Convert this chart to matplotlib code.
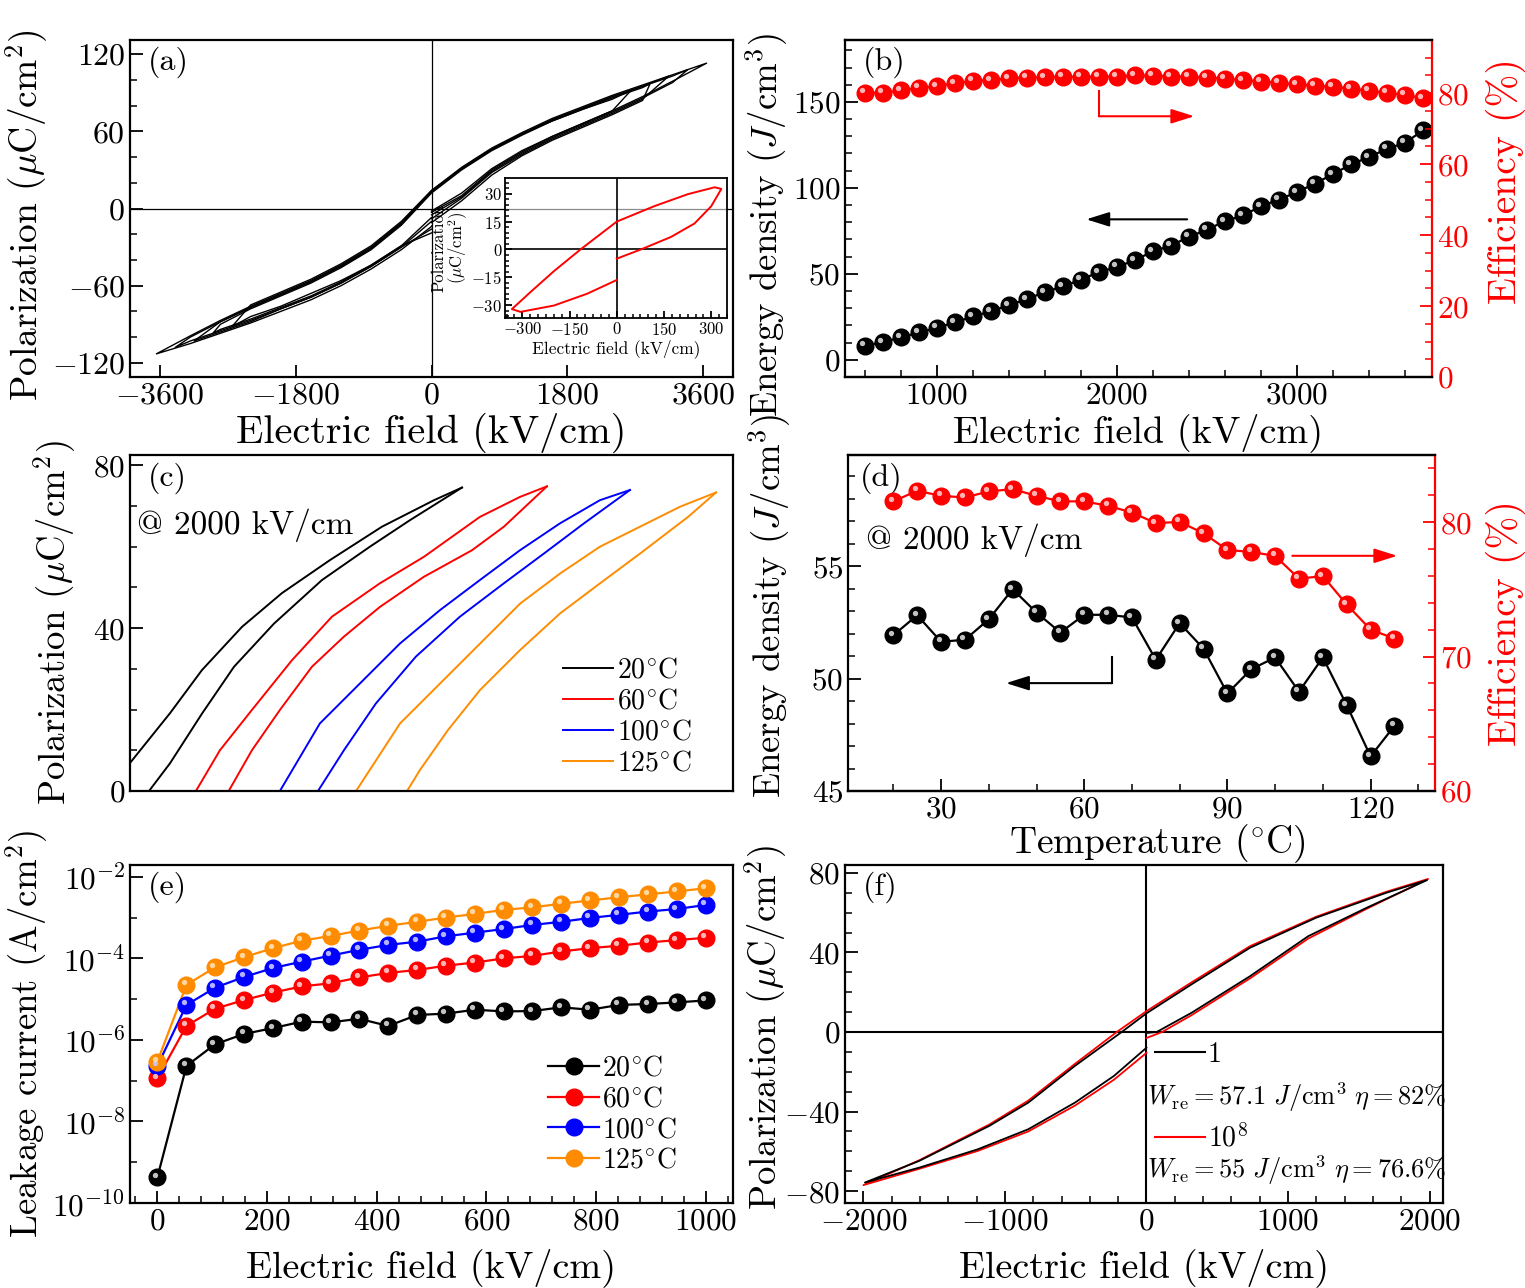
import matplotlib
matplotlib.use("Agg")
import matplotlib.pyplot as plt
import matplotlib.transforms as mtransforms
from matplotlib.lines import Line2D
from matplotlib.ticker import MultipleLocator, FixedLocator, NullFormatter

# ======================= DATA =======================
# (a) main bipolar P-E loops (kV/cm, uC/cm2)
A_GRID = [400, 800, 1200, 1600, 2000, 2400, 2800, 3200]
A_EMAX = [3650, 3400, 3150, 2900, 2650]
A_RISE = [
    [-3, 10, 30, 44, 56, 66, 76, 87, 99],
    [-5, 9, 29, 43, 55, 65, 75, 86, 98],
    [-8, 8, 28, 42, 54, 64, 74, 85],
    [-11, 6, 26, 41, 53, 63, 73, 84],
    [-2, 12, 31, 45, 56, 66, 76],
]
A_UPPER = [
    [113, 104, 96, 88, 79, 70, 59, 47, 32, 14, -11, -30, -44, -56, -66, -76, -87, -99, -113],
    [108, 103, 95, 87, 78, 69, 58, 46, 31, 13, -12, -31, -45, -57, -67, -77, -88, -100, -108],
    [103, 95, 87, 78, 69, 58, 46, 31, 13, -12, -31, -45, -57, -67, -77, -88, -103],
    [97, 94, 86, 77, 68, 57, 45, 30, 12, -13, -32, -46, -58, -68, -78, -90, -97],
    [92, 85, 77, 68, 58, 46, 31, 14, -10, -29, -43, -55, -65, -75, -92],
]
A_LOWER = [
    [-105, -97, -89, -80, -71, -60, -47, -32, -14],
    [-103, -95, -87, -78, -69, -58, -45, -30, -10],
    [-96, -88, -78, -69, -58, -45, -30, -16],
    [-94, -86, -77, -68, -57, -44, -29, -19],
    [-84, -76, -66, -56, -44, -29, -7],
]
# (a) inset loop
INS_E = [0, 77, 172, 247, 300, 332, 311, 226, 119, 0, -115, -200, -274, -333, -306, -200, -94, 0]
INS_P = [-5, 0, 6.7, 14, 23.3, 32.6, 33.5, 29.8, 23.3, 15, 0, -11.8, -23, -32.2, -33.7, -30.3, -23.9, -16.5]

# (b) energy density and efficiency vs field
B_E = [600, 700, 800, 900, 1000, 1100, 1200, 1300, 1400, 1500, 1600, 1700, 1800, 1900, 2000, 2100,
       2200, 2300, 2400, 2500, 2600, 2700, 2800, 2900, 3000, 3100, 3200, 3300, 3400, 3500, 3600, 3700]
B_W = [8.2, 10.3, 13.0, 15.9, 18.6, 21.7, 25.2, 28.2, 31.8, 35.3, 39.4, 42.7, 46.6, 51.0, 54.0, 57.9,
       63.1, 66.4, 71.5, 75.7, 80.6, 84.0, 89.3, 93.2, 97.5, 102.5, 108.0, 113.6, 117.9, 122.7, 126.2, 133.4]
B_ETA = [80.1, 80.1, 80.8, 81.5, 82.0, 82.8, 83.5, 83.7, 84.2, 84.4, 84.5, 84.6, 84.6, 84.6, 84.7, 85.0,
         84.9, 84.7, 84.6, 84.4, 84.1, 83.7, 83.3, 82.9, 82.5, 82.1, 81.8, 81.3, 80.7, 80.1, 79.5, 78.6]

# (c) unipolar loops at 2000 kV/cm for several temperatures
C_TEMPS = ['20', '60', '100', '125']
C_UP_E = [[2000, 1825, 1500, 1175, 875, 625, 375, 175, -50, -215],
          [2000, 1831, 1581, 1231, 956, 656, 406, 156, -44, -194],
          [2000, 1812, 1562, 1312, 1062, 812, 562, 312, 62, -188],
          [2000, 1775, 1525, 1275, 1025, 775, 525, 275, 25, -250]]
C_UP_P = [[74.5, 71.4, 64.9, 56.7, 48.6, 40.3, 29.7, 19.1, 8.1, 0],
          [74.8, 72.2, 67.3, 57.5, 51.0, 42.8, 32.1, 19.9, 10.0, 0],
          [73.9, 71.4, 65.7, 59.1, 51.8, 44.4, 36.2, 26.4, 16.6, 0],
          [73.3, 69.8, 64.9, 60.0, 53.4, 46.0, 36.2, 26.4, 16.6, 0]]
C_LO_E = [[44, 175, 375, 575, 825, 1125, 1425, 1675, 2000],
          [11, 156, 331, 531, 731, 956, 1231, 1531, 1731, 2000],
          [50, 212, 412, 662, 937, 1212, 1462, 1712, 2000],
          [69, 150, 325, 525, 775, 1025, 1275, 1525, 1825, 2000]]
C_LO_P = [[0, 6.8, 19.0, 30.5, 41.1, 51.8, 60.0, 66.5, 74.5],
          [0, 10.0, 19.9, 30.5, 37.9, 45.2, 52.6, 59.1, 64.9, 74.8],
          [0, 10.0, 21.5, 33.0, 42.8, 51.0, 58.3, 65.7, 73.9],
          [0, 5.2, 15.0, 24.8, 34.6, 43.6, 51.0, 58.3, 67.3, 73.3]]

# (d) energy density and efficiency vs temperature
D_T = [20, 25, 30, 35, 40, 45, 50, 55, 60, 65, 70, 75, 80, 85, 90, 95, 100, 105, 110, 115, 120, 125]
D_W = [51.93, 52.82, 51.64, 51.73, 52.64, 53.98, 52.94, 52.05, 52.84, 52.84, 52.72, 50.84, 52.47, 51.33,
       49.34, 50.42, 50.94, 49.42, 50.94, 48.82, 46.54, 47.90]
D_ETA = [81.55, 82.34, 81.96, 81.84, 82.29, 82.46, 81.96, 81.55, 81.55, 81.22, 80.72, 79.93, 80.02, 79.18,
         77.93, 77.79, 77.49, 75.80, 75.99, 73.88, 72.01, 71.34]

# (e) leakage current
E_E = [0, 53, 105, 158, 211, 263, 316, 368, 421, 474, 526, 579, 632, 684, 737, 789, 842, 895, 947, 1000]
E_I20 = [4.3e-10, 2.3e-7, 7.8e-7, 1.4e-6, 1.95e-6, 2.8e-6, 2.7e-6, 3.3e-6, 2.2e-6, 4.1e-6, 4.4e-6, 5.5e-6,
         5.0e-6, 5.1e-6, 6.3e-6, 5.5e-6, 7.2e-6, 7.6e-6, 8.3e-6, 9.3e-6]
E_I60 = [1.15e-7, 2.2e-6, 5.8e-6, 9.5e-6, 1.45e-5, 2.05e-5, 2.45e-5, 3.4e-5, 4.4e-5, 5.2e-5, 6.6e-5, 7.9e-5,
         1.0e-4, 1.15e-4, 1.48e-4, 1.78e-4, 2.04e-4, 2.45e-4, 2.8e-4, 3.2e-4]
E_I100 = [2.3e-7, 7.2e-6, 1.9e-5, 3.5e-5, 5.8e-5, 8.3e-5, 1.17e-4, 1.62e-4, 2.14e-4, 2.57e-4, 3.47e-4, 4.27e-4,
          5.25e-4, 6.6e-4, 7.9e-4, 9.8e-4, 1.17e-3, 1.41e-3, 1.62e-3, 2.04e-3]
E_I125 = [2.95e-7, 2.24e-5, 6.0e-5, 1.07e-4, 1.78e-4, 2.7e-4, 3.55e-4, 4.8e-4, 6.3e-4, 7.9e-4, 1.0e-3, 1.23e-3,
          1.55e-3, 1.78e-3, 2.19e-3, 2.63e-3, 3.16e-3, 3.72e-3, 4.37e-3, 5.25e-3]

# (f) fatigue loops: 1 cycle and 1e8 cycles
F1_E = [0, 72, 319, 732, 1143, 1556, 1982, 1693, 1199, 732, 319, 0, -175, -505, -835, -1110, -1605, -1989,
        -1605, -1192, -835, -505, -230, 0]
F1_P = [-0.5, 0, 9.7, 28.1, 48.2, 62.5, 76.4, 70.0, 57.5, 42.4, 24.0, 9.4, 0, -17.0, -35.5, -47.2, -64.8, -75.7,
        -68.2, -59.0, -48.9, -35.5, -22.1, -7.9]
F8_E = [0, 110, 319, 732, 1143, 1556, 1990, 1693, 1199, 732, 319, 0, -210, -505, -835, -1110, -1605, -2000,
        -1605, -1192, -835, -505, -230, 0]
F8_P = [-3, 0, 8.5, 27.0, 47.0, 62.0, 77.0, 70.5, 58.0, 43.2, 25.0, 10.5, 0, -16.0, -34.5, -46.5, -64.5, -77.0,
        -68.8, -59.8, -50.0, -37.0, -24.0, -10.5]

# ======================= STYLE =======================
plt.rcParams.update({
    'font.family': ['cmr10', 'DejaVu Serif'],
    'mathtext.fontset': 'cm',
    'axes.formatter.use_mathtext': True,
    'axes.unicode_minus': True,
    'font.size': 22,
    'axes.linewidth': 1.6,
})
TICK_FS = 22.5
XLAB_FS = 27.5
YLAB_FS = 26.5
RLAB_FS = 28.5
LEG_FS = 20
RED = '#ff0000'
BLUE = '#0000ff'
ORANGE = '#ff8c00'
C_COLORS = ['black', RED, BLUE, ORANGE]
C_OFFSET = [0, 531, 1050, 1588]   # horizontal display shift of each loop
POL_LABEL = r'Polarization ($\mu$C/cm$^2$)'
ENERGY_LABEL = r'Energy density ($J$/cm$^3$)'
FIELD_LABEL = 'Electric field (kV/cm)'

W, H = 1525, 1288
fig = plt.figure(figsize=(15.25, 12.88), dpi=100)


def box(l, t, r, b):
    return [l / W, 1 - b / H, (r - l) / W, (b - t) / H]


def style(ax, fs=TICK_FS, maj=9, mnr=5):
    ax.tick_params(which='both', direction='in', labelsize=fs)
    ax.tick_params(which='major', length=maj, width=1.3)
    ax.tick_params(which='minor', length=mnr, width=1.1)


def balls(ax, x, y, color, hl, ms=12, lw=1.6):
    ax.plot(x, y, '-', color=color, lw=lw, zorder=2)
    ax.plot(x, y, 'o', ms=ms, mfc=color, mec=color, zorder=3)
    tr = mtransforms.offset_copy(ax.transData, fig=fig, x=-1.8, y=1.8, units='points')
    ax.plot(x, y, 'o', ms=ms * 0.32, mfc=hl, mec='none', alpha=0.9, transform=tr, zorder=4)


def panel_label(ax, s, x=0.03, y=0.935):
    ax.text(x, y, s, transform=ax.transAxes, fontsize=23, ha='left', va='center')


def labels(ax, xlab, ylab, xcoord, ycoord, xfs=XLAB_FS, yfs=YLAB_FS, ymid=0.5, xmid=0.5):
    if xlab:
        ax.set_xlabel(xlab, fontsize=xfs)
        ax.xaxis.set_label_coords(xmid, xcoord)
    ax.set_ylabel(ylab, fontsize=yfs)
    ax.yaxis.set_label_coords(ycoord, ymid)


def arrow(ax, x0, y0, x1, y1, color):
    ax.annotate('', xy=(x1, y1), xytext=(x0, y0),
                arrowprops=dict(arrowstyle='-|>,head_length=0.7,head_width=0.22', color=color, lw=1.5,
                                mutation_scale=20, shrinkA=0, shrinkB=0))


# ---------------- (a) ----------------
axa = fig.add_axes(box(130, 40, 733, 377))
axa.axhline(0, color='black', lw=0.9, zorder=1)
axa.axvline(0, color='black', lw=0.9, zorder=1)
for emax, rise, up, low in zip(A_EMAX, A_RISE, A_UPPER, A_LOWER):
    grid = [g for g in A_GRID if g < emax]
    e_path = ([0] + grid + [emax] + grid[::-1] + [0] + [-g for g in grid] + [-emax]
              + [-g for g in grid[::-1]] + [0])
    p_path = rise + up + low
    axa.plot(e_path, p_path, color='black', lw=1.0)
axa.set_xlim(-4000, 4000)
axa.set_ylim(-131, 131)
axa.set_xticks([-3600, -1800, 0, 1800, 3600])
axa.set_yticks([-120, -60, 0, 60, 120])
axa.yaxis.set_minor_locator(MultipleLocator(20))
style(axa, fs=23)
labels(axa, FIELD_LABEL, POL_LABEL, -0.107, -0.133, xfs=29, yfs=27, ymid=0.48)
panel_label(axa, '(a)')

ins = fig.add_axes(box(505, 178, 727, 318))
ins.set_facecolor((1, 1, 1, 0.55))
ins.axhline(0, color='black', lw=1.2)
ins.axvline(0, color='black', lw=1.2)
ins.plot(INS_E, INS_P, color=RED, lw=1.4)
ins.set_xlim(-355, 350)
ins.set_ylim(-37, 38.5)
ins.set_xticks([-300, -150, 0, 150, 300])
ins.set_yticks([-30, -15, 0, 15, 30])
ins.xaxis.set_minor_locator(MultipleLocator(25))
ins.yaxis.set_minor_locator(MultipleLocator(3))
style(ins, fs=12, maj=5, mnr=3)
ins.tick_params(pad=2)
for s in ins.spines.values():
    s.set_linewidth(1.3)
ins.set_xlabel(FIELD_LABEL, fontsize=12.5, labelpad=1)
ins.set_ylabel('Polarization\n($\\mu$C/cm$^2$)', fontsize=12, labelpad=1, linespacing=1.0)

# ---------------- (b) ----------------
axb = fig.add_axes(box(845, 40, 1432, 377))
balls(axb, B_E, B_W, 'black', '#d8d8d8')
axb.set_xlim(490, 3750)
axb.set_ylim(-10, 186)
axb.set_xticks([1000, 2000, 3000])
axb.xaxis.set_minor_locator(MultipleLocator(200))
axb.set_yticks([0, 50, 100, 150])
axb.yaxis.set_minor_locator(MultipleLocator(10))
axb.spines['right'].set_visible(False)
style(axb)
labels(axb, FIELD_LABEL, ENERGY_LABEL, -0.107, -0.093, ymid=0.45)
panel_label(axb, '(b)')
arrow(axb, 2390, 81.7, 1830, 81.7, 'black')
axbr = axb.twinx()
balls(axbr, B_E, B_ETA, RED, '#ffc8c8')
axbr.set_ylim(0, 95)
axbr.set_yticks([0, 20, 40, 60, 80])
axbr.yaxis.set_minor_locator(MultipleLocator(5))
style(axbr)
axbr.spines['right'].set_color(RED)
axbr.spines['left'].set_visible(False)
axbr.tick_params(axis='y', which='both', colors=RED, labelcolor=RED)
axbr.set_ylabel('Efficiency (%)', fontsize=RLAB_FS, color=RED)
axbr.yaxis.set_label_coords(1.092, 0.58)
axbr.plot([1900, 1900], [80.5, 73.5], color=RED, lw=1.5)
arrow(axbr, 1900, 73.5, 2430, 73.5, RED)

# ---------------- (c) ----------------
axc = fig.add_axes(box(130, 455, 733, 791))
for i, t in enumerate(C_TEMPS):
    off = C_OFFSET[i]
    axc.plot([e + off for e in C_UP_E[i]], C_UP_P[i], color=C_COLORS[i], lw=1.4,
             label=t + r'$^{\circ}$C')
    axc.plot([e + off for e in C_LO_E[i]], C_LO_P[i], color=C_COLORS[i], lw=1.4)
axc.set_xlim(-75, 3694)
axc.set_ylim(0, 82.5)
axc.set_xticks([])
axc.set_yticks([0, 40, 80])
axc.yaxis.set_minor_locator(MultipleLocator(10))
style(axc)
labels(axc, None, POL_LABEL, None, -0.0862)
panel_label(axc, '(c)', y=0.932)
axc.text(0.012, 0.79, '@ 2000 kV/cm', transform=axc.transAxes, fontsize=24, va='center')
axc.legend(loc='upper left', bbox_to_anchor=(0.718, 0.397), frameon=False, fontsize=LEG_FS,
           handlelength=1.8, handletextpad=0.15, labelspacing=0.16, borderpad=0, borderaxespad=0)

# ---------------- (d) ----------------
axd = fig.add_axes(box(848, 455, 1435, 791))
balls(axd, D_T, D_W, 'black', '#d8d8d8')
axd.set_xlim(10.5, 133.5)
axd.set_ylim(45, 59.95)
axd.set_xticks([30, 60, 90, 120])
axd.xaxis.set_minor_locator(MultipleLocator(10))
axd.set_yticks([45, 50, 55])
axd.yaxis.set_minor_locator(MultipleLocator(1))
axd.spines['right'].set_visible(False)
style(axd)
labels(axd, 'Temperature ($^{\\circ}$C)', ENERGY_LABEL, -0.094, -0.094, xfs=27, ymid=0.55, xmid=0.527)
panel_label(axd, '(d)', x=0.02, y=0.932)
axd.text(0.031, 0.747, '@ 2000 kV/cm', transform=axd.transAxes, fontsize=24, va='center')
axd.plot([65.8, 65.8], [50.96, 49.8], color='black', lw=1.5)
arrow(axd, 65.8, 49.8, 43.6, 49.8, 'black')
axdr = axd.twinx()
balls(axdr, D_T, D_ETA, RED, '#ffc8c8')
axdr.set_ylim(60, 85)
axdr.set_yticks([60, 70, 80])
axdr.yaxis.set_minor_locator(MultipleLocator(2))
style(axdr)
axdr.spines['right'].set_color(RED)
axdr.spines['left'].set_visible(False)
axdr.tick_params(axis='y', which='both', colors=RED, labelcolor=RED)
axdr.set_ylabel('Efficiency (%)', fontsize=RLAB_FS, color=RED)
axdr.yaxis.set_label_coords(1.086, 0.5)
arrow(axdr, 103.6, 77.5, 125.6, 77.5, RED)

# ---------------- (e) ----------------
axe = fig.add_axes(box(130, 865, 733, 1203))
E_SERIES = [E_I20, E_I60, E_I100, E_I125]
E_HL = ['#d8d8d8', '#ffc8c8', '#c8c8ff', '#ffe0b0']
handles = []
for i, ser in enumerate(E_SERIES):
    balls(axe, E_E, ser, C_COLORS[i], E_HL[i], ms=12)
    handles.append(Line2D([], [], color=C_COLORS[i], lw=1.6, marker='o', ms=12,
                          mfc=C_COLORS[i], mec=C_COLORS[i]))
axe.set_yscale('log')
axe.set_xlim(-50, 1050)
axe.set_ylim(1e-10, 1.95e-2)
axe.set_xticks([0, 200, 400, 600, 800, 1000])
axe.xaxis.set_minor_locator(MultipleLocator(40))
axe.yaxis.set_major_locator(FixedLocator([1e-10, 1e-8, 1e-6, 1e-4, 1e-2]))
axe.yaxis.set_minor_locator(FixedLocator([1e-9, 1e-7, 1e-5, 1e-3]))
axe.yaxis.set_minor_formatter(NullFormatter())
style(axe)
labels(axe, FIELD_LABEL, 'Leakage current (A/cm$^2$)', -0.133, -0.133)
panel_label(axe, '(e)')
axe.legend(handles, [t + r'$^{\circ}$C' for t in C_TEMPS], loc='upper left',
           bbox_to_anchor=(0.693, 0.437), frameon=False, fontsize=LEG_FS,
           handlelength=1.85, handletextpad=0.1, labelspacing=0.16, borderpad=0, borderaxespad=0)

# ---------------- (f) ----------------
axf = fig.add_axes(box(845, 865, 1443, 1203))
axf.axhline(0, color='black', lw=1.5, zorder=1)
axf.axvline(0, color='black', lw=1.5, zorder=1)
axf.plot(F8_E, F8_P, color=RED, lw=1.3)
axf.plot(F1_E, F1_P, color='black', lw=1.3)
axf.set_xlim(-2130, 2095)
axf.set_ylim(-86, 84)
axf.set_xticks([-2000, -1000, 0, 1000, 2000])
axf.xaxis.set_minor_locator(MultipleLocator(200))
axf.set_yticks([-80, -40, 0, 40, 80])
axf.yaxis.set_minor_locator(MultipleLocator(10))
style(axf)
labels(axf, FIELD_LABEL, POL_LABEL, -0.133, -0.093, ymid=0.52)
panel_label(axf, '(f)')
leg1 = axf.legend([Line2D([], [], color='black', lw=1.5)], ['1'], loc='center left',
                  bbox_to_anchor=(0.518, 0.438), frameon=False, fontsize=LEG_FS,
                  handlelength=1.8, handletextpad=0.1, borderpad=0, borderaxespad=0)
axf.add_artist(leg1)
axf.legend([Line2D([], [], color=RED, lw=1.5)], ['$10^8$'], loc='center left',
           bbox_to_anchor=(0.518, 0.192), frameon=False, fontsize=LEG_FS,
           handlelength=1.8, handletextpad=0.1, borderpad=0, borderaxespad=0)
axf.text(0.505, 0.314, r'$W_{\rm re}=57.1\ J/{\rm cm}^3\ \eta=82\%$', transform=axf.transAxes,
         fontsize=19, va='center', ha='left')
axf.text(0.505, 0.098, r'$W_{\rm re}=55\ J/{\rm cm}^3\ \eta=76.6\%$', transform=axf.transAxes,
         fontsize=19, va='center', ha='left')

fig.savefig('out.png', dpi=100)
